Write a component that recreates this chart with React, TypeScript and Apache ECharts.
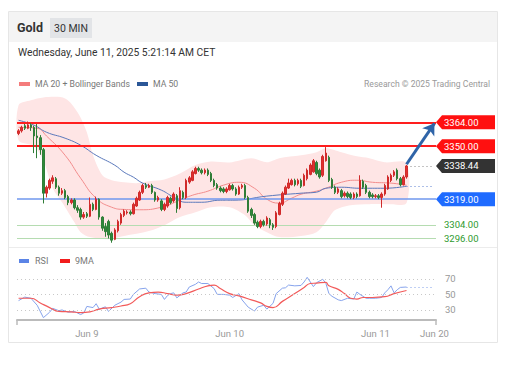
import React, { useEffect, useRef } from 'react';
import * as echarts from 'echarts';

// ---------- data ----------
const CATEGORY_COUNT = 135;
const tickIndex = [22, 68, 115, 134];
const tickText = ['Jun 9', 'Jun 10', 'Jun 11', 'Jun 20'];

// [open, close, low, high]
const candles: number[][] = [
  [3357.5, 3359, 3356.5, 3360], [3359, 3361, 3358, 3362], [3362, 3360.5, 3359.5, 3363], [3360.5, 3362.5, 3360, 3364.5],
  [3362.5, 3361, 3359, 3363.5], [3361, 3356, 3346, 3362], [3356, 3355, 3343, 3363], [3355, 3348, 3345, 3356.5],
  [3348, 3322.5, 3316.5, 3349], [3322.5, 3326, 3320, 3327], [3325.5, 3330, 3324.5, 3331], [3329.5, 3331.5, 3328, 3333],
  [3331, 3326, 3325, 3332], [3326, 3322.5, 3321, 3327], [3322.5, 3324, 3321.5, 3325.5], [3324, 3320, 3319, 3325],
  [3320.5, 3317, 3315.5, 3321.5], [3317, 3318.5, 3316, 3319.5], [3318.5, 3314, 3313, 3319.5], [3314, 3312.5, 3311, 3315.5],
  [3313, 3308.5, 3307, 3314], [3308.5, 3310, 3307.5, 3311.5], [3310.5, 3309, 3308, 3311.5], [3309, 3316, 3308.5, 3320],
  [3316, 3313, 3312, 3317], [3313, 3319, 3312.5, 3320.5], [3319, 3308.5, 3307, 3319.5], [3308.5, 3302, 3300.5, 3309],
  [3303, 3300, 3297, 3305], [3306, 3298, 3296, 3307], [3299, 3295, 3293.5, 3300], [3295.5, 3301, 3295, 3302],
  [3300.5, 3306, 3299.5, 3307], [3305, 3310, 3304, 3311], [3309.5, 3312, 3308.5, 3313], [3311, 3311.5, 3310, 3312.5],
  [3311.5, 3310.5, 3309.5, 3312.5], [3310.5, 3316, 3310, 3317], [3315, 3319.5, 3314.5, 3320.5], [3318.5, 3323, 3318, 3324],
  [3323, 3327, 3322, 3328], [3327, 3326, 3325, 3328.5], [3326, 3327, 3325.5, 3328], [3327, 3323, 3322, 3328],
  [3323, 3318.5, 3317.5, 3323.5], [3318.5, 3320, 3317.5, 3321], [3318, 3313, 3312, 3319], [3313, 3316, 3312, 3317],
  [3315, 3320, 3314, 3321], [3319.5, 3317, 3316, 3320.5], [3318, 3322, 3317, 3323], [3321, 3313.5, 3311, 3322],
  [3314, 3324, 3313, 3326], [3323, 3320, 3319, 3324], [3320, 3330, 3319, 3331], [3329, 3331.5, 3328, 3332.5],
  [3330, 3335, 3329.5, 3336], [3334, 3337, 3333.5, 3338], [3337, 3336, 3335, 3338], [3336, 3334.5, 3333.5, 3337],
  [3334.5, 3336, 3333.5, 3337], [3336, 3333.5, 3332.5, 3337], [3334, 3330, 3329, 3335], [3330, 3327, 3326, 3331],
  [3327.5, 3325.5, 3324.5, 3328.5], [3325.5, 3324, 3323, 3326.5], [3325, 3323.5, 3322.5, 3326], [3323.5, 3325, 3322.5, 3326],
  [3324.5, 3327, 3324, 3328], [3327, 3325, 3324, 3328], [3325, 3322, 3321, 3326], [3322, 3326, 3321.5, 3327],
  [3326, 3327, 3325, 3328], [3327, 3320, 3319, 3328], [3320, 3312, 3311, 3321], [3313, 3309.5, 3308, 3314],
  [3310, 3305, 3304, 3311], [3305.5, 3303, 3302, 3306.5], [3303, 3306, 3302, 3307], [3306, 3304, 3303, 3307],
  [3304.5, 3308, 3303.5, 3309], [3307, 3304, 3302, 3308], [3304, 3302.5, 3301, 3305], [3303, 3311, 3302, 3312],
  [3310, 3316.5, 3309.5, 3317.5], [3316, 3322.5, 3315, 3323.5], [3322, 3326, 3321.5, 3327], [3325.5, 3328.5, 3325, 3331],
  [3327.5, 3330, 3327, 3331], [3330, 3327.5, 3326.5, 3331], [3328, 3330, 3327, 3331], [3330, 3326.5, 3325.5, 3331],
  [3327, 3333, 3326.5, 3334], [3331, 3336, 3330, 3337], [3333.5, 3339, 3333, 3340], [3335, 3341.5, 3334.5, 3342.5],
  [3340.5, 3334, 3333, 3341.5], [3336, 3332, 3331, 3337], [3333, 3344, 3332, 3345], [3341.5, 3346, 3341, 3349.5],
  [3343.5, 3330, 3329, 3344.5], [3330.5, 3326, 3325, 3331.5], [3326, 3323, 3322, 3327], [3323, 3325, 3322, 3326],
  [3324, 3320.5, 3319.5, 3325], [3321, 3322.5, 3320, 3323.5], [3322.5, 3320.5, 3319.5, 3323.5], [3322, 3320, 3319, 3323],
  [3320, 3322, 3319, 3323], [3322, 3320.5, 3319.5, 3323], [3321, 3330, 3320.5, 3333], [3329.5, 3326, 3325, 3330.5],
  [3327, 3323, 3322, 3328], [3323, 3320.5, 3319.5, 3324], [3321.5, 3320.5, 3319.5, 3322.5], [3320.5, 3321, 3319.5, 3322],
  [3321, 3320, 3319, 3322], [3320, 3322, 3314, 3323], [3322, 3327, 3321, 3328], [3325, 3332, 3324.5, 3333],
  [3330, 3333, 3329, 3334], [3333, 3335, 3332, 3336], [3336, 3331, 3330, 3337], [3331, 3327.5, 3326.5, 3332],
  [3327.5, 3332, 3327, 3333], [3332, 3338.44, 3331, 3339],
];

// [category index, value]
const ma20: number[][] = [
  [0, 3361.1], [6, 3360.5], [9, 3356], [15, 3344.7], [20, 3331.3], [25, 3319.6], [30, 3314.3], [34, 3313],
  [39, 3312.8], [46, 3314.3], [52, 3318.4], [56, 3321.3], [61, 3323.7], [66, 3327.2], [71, 3328.9], [76, 3325.4],
  [80, 3319], [84, 3316.7], [88, 3319.6], [91, 3321.9], [96, 3323.7], [99, 3325.4], [104, 3328.9], [109, 3330.1],
  [114, 3328.9], [120, 3328.4], [125, 3327.2],
];
const ma50: number[][] = [
  [0, 3365.2], [5, 3362.3], [9, 3358.2], [15, 3354.7], [20, 3350.6], [25, 3344.7], [31, 3338.9], [34, 3334.8],
  [37, 3331.9], [40, 3328.4], [46, 3324.3], [50, 3320.2], [54, 3317.2], [59, 3317.2], [65, 3318.4], [69, 3318.4],
  [80, 3320.8], [91, 3322.5], [96, 3323.1], [99, 3325.4], [104, 3326], [110, 3325.4], [118, 3325.4], [125, 3326.6],
];
const bandUpper: number[][] = [
  [0, 3374], [4, 3376.9], [8, 3378.6], [15, 3378], [19, 3369.9], [22, 3358.2], [24, 3344.7], [27, 3333],
  [30, 3330.1], [34, 3328.9], [38, 3328.4], [42, 3329.5], [47, 3330.5], [52, 3334], [57, 3339], [62, 3341],
  [68, 3340.5], [75, 3343], [80, 3340.6], [84, 3343], [91, 3344.7], [96, 3346.5], [99, 3348.8], [104, 3346.5],
  [109, 3344.1], [113, 3343], [118, 3340.6], [125, 3340.1],
];
const bandLower: number[][] = [
  [0, 3353.5], [5, 3350], [8, 3341.8], [11, 3325.4], [14, 3317.2], [16, 3311.4], [18, 3305.5], [20, 3299.7],
  [23, 3296.8], [29, 3295.6], [34, 3297.4], [42, 3300.3], [47, 3303.8], [52, 3308.5], [57, 3311.4], [62, 3314.3],
  [68, 3314.3], [73, 3309.6], [76, 3303.8], [80, 3299.7], [84, 3296.8], [91, 3297.4], [96, 3299.7], [99, 3305.5],
  [102, 3312.6], [107, 3315.5], [113, 3316.1], [120, 3316.1], [125, 3316.7],
];
const rsi: number[][] = [
  [0, 42], [2, 46.5], [4, 45], [6, 36], [8, 20], [10, 27], [11, 32], [13, 29], [14, 30], [16, 27], [18, 28],
  [20, 24], [21, 26], [22, 34.5], [24, 33], [25, 38], [26, 31], [28, 34], [29, 28], [31, 36], [33, 40], [34, 43.5],
  [36, 44], [37, 50], [39, 57], [41, 58], [42, 53], [44, 51], [46, 50], [47, 43.5], [48, 48.5], [49, 51], [50, 52],
  [51, 45.5], [53, 52], [54, 53], [55, 59.5], [57, 63], [58, 66], [59, 64], [61, 64], [63, 57.5], [64, 50], [66, 50],
  [68, 49], [69, 46], [71, 51], [72, 43], [74, 33.5], [76, 28.5], [77, 33.6], [79, 36], [80, 31], [82, 38.5],
  [83, 51], [85, 58], [86, 58.5], [87, 62], [89, 61], [91, 61.5], [92, 66], [93, 72], [95, 60], [96, 65], [98, 69.5],
  [99, 64.5], [100, 51], [101, 47.5], [103, 43], [104, 42], [106, 45], [108, 44], [109, 53], [110, 50], [112, 45],
  [113, 45], [115, 45], [117, 46], [118, 52], [119, 56], [120, 61], [121, 52], [122, 56], [123, 59], [125, 59.5],
];
const rsi9ma: number[][] = [
  [0, 45], [4, 45], [7, 39], [10, 33], [13, 28], [17, 27.5], [20, 26.5], [23, 27.5], [26, 31], [30, 33], [33, 35],
  [36, 38], [39, 47], [42, 52], [45, 53], [48, 51], [51, 49], [54, 51], [58, 57], [61, 61], [63, 62], [65, 57.5],
  [68, 51], [71, 48], [75, 43], [78, 39], [80, 34.5], [82, 33], [85, 41], [89, 51], [92, 59], [94, 64], [96, 64.5],
  [99, 65.5], [100, 61], [103, 56.5], [105, 51], [107, 45], [109, 44], [111, 46], [114, 46], [118, 47], [121, 51],
  [125, 55],
];
const resistanceLevels = [3364, 3350];
const pivotLevel = 3319;
const supportLevels = [3304, 3296];
const lastPrice = 3338.44;
const targetPrice = 3364;
const maLast = 3326.6;
const rsiLast = 59.5;
const rsiLevels = [30, 50, 70];

const FONT = 'Roboto, Arial, sans-serif';

export default function App() {
  const ref = useRef<HTMLDivElement>(null);

  useEffect(() => {
    document.body.style.margin = '0';
    const chart = echarts.init(ref.current!, null, { renderer: 'svg' });
    const cats = Array.from({ length: CATEGORY_COUNT }, (_, i) => String(i));
    const lastIdx = candles.length - 1;
    const endIdx = CATEGORY_COUNT - 1;

    const baseGraphics: any[] = [
      { id: 'card', type: 'rect', z: -10, shape: { x: 8.5, y: 11.5, width: 489, height: 331 }, style: { fill: '#fff', stroke: '#e6e6e6', lineWidth: 1 } },
      { id: 'hdr', type: 'rect', z: -9, shape: { x: 9, y: 12, width: 488, height: 30 }, style: { fill: '#f4f4f4' } },
      { id: 'gold', type: 'text', z: 10, x: 17, y: 27, style: { text: 'Gold', fill: '#333', fontSize: 12.5, fontWeight: 'bold', fontFamily: FONT, verticalAlign: 'middle' } },
      { id: 'badge', type: 'rect', z: 9, shape: { x: 50, y: 18, width: 42, height: 20 }, style: { fill: '#e2e4e7' } },
      { id: 'badgeT', type: 'text', z: 10, x: 71, y: 28, style: { text: '30 MIN', fill: '#333', fontSize: 10.5, fontFamily: FONT, align: 'center', verticalAlign: 'middle' } },
      { id: 'date', type: 'text', z: 10, x: 18, y: 52, style: { text: 'Wednesday, June 11, 2025 5:21:14 AM CET', fill: '#333', fontSize: 10.3, fontFamily: FONT, verticalAlign: 'middle' } },
      { id: 'lg1r', type: 'rect', z: 10, shape: { x: 19, y: 82, width: 11, height: 4 }, style: { fill: '#f47c7c' } },
      { id: 'lg1t', type: 'text', z: 10, x: 35, y: 84, style: { text: 'MA 20 + Bollinger Bands', fill: '#777', fontSize: 8.7, fontFamily: FONT, verticalAlign: 'middle' } },
      { id: 'lg2r', type: 'rect', z: 10, shape: { x: 137, y: 82, width: 11, height: 4 }, style: { fill: '#2b5797' } },
      { id: 'lg2t', type: 'text', z: 10, x: 153, y: 84, style: { text: 'MA 50', fill: '#777', fontSize: 8.7, fontFamily: FONT, verticalAlign: 'middle' } },
      { id: 'src', type: 'text', z: 10, x: 490, y: 84, style: { text: 'Research \u00a9 2025 Trading Central', fill: '#999', fontSize: 8.6, fontFamily: FONT, align: 'right', verticalAlign: 'middle' } },
      { id: 'sep', type: 'line', z: -8, shape: { x1: 9, y1: 247.5, x2: 497, y2: 247.5 }, style: { stroke: '#ececec', lineWidth: 1 } },
      { id: 'lg3r', type: 'rect', z: 10, shape: { x: 19, y: 259, width: 10, height: 4 }, style: { fill: '#5b84e6' } },
      { id: 'lg3t', type: 'text', z: 10, x: 35, y: 261, style: { text: 'RSI', fill: '#777', fontSize: 9, fontFamily: FONT, verticalAlign: 'middle' } },
      { id: 'lg4r', type: 'rect', z: 10, shape: { x: 60, y: 259, width: 10, height: 4 }, style: { fill: '#f21d1d' } },
      { id: 'lg4t', type: 'text', z: 10, x: 75, y: 261, style: { text: '9MA', fill: '#777', fontSize: 9, fontFamily: FONT, verticalAlign: 'middle' } },
      { id: 'tk1', type: 'line', z: 10, shape: { x1: 17, y1: 320, x2: 17, y2: 325 }, style: { stroke: '#bbb', lineWidth: 1.5 } },
      { id: 'tk2', type: 'line', z: 10, shape: { x1: 436, y1: 320, x2: 436, y2: 325 }, style: { stroke: '#bbb', lineWidth: 1.5 } },
    ];

    const option: any = {
      animation: false,
      textStyle: { fontFamily: FONT },
      grid: [
        { left: 17, right: 79, top: 95, height: 152 },
        { left: 17, right: 79, top: 268, height: 52 },
      ],
      xAxis: [
        { type: 'category', gridIndex: 0, data: cats, show: false, boundaryGap: true },
        {
          type: 'category', gridIndex: 1, data: cats, boundaryGap: true,
          axisLine: { lineStyle: { color: '#bbb', width: 2 } },
          axisTick: { show: false },
          splitLine: { show: false },
          axisLabel: {
            interval: (i: number) => tickIndex.includes(i),
            formatter: (v: string) => { const k = tickIndex.indexOf(Number(v)); return k >= 0 ? tickText[k] : ''; },
            color: '#999', fontSize: 9.5, margin: 8, fontFamily: FONT,
          },
        },
      ],
      yAxis: [
        { type: 'value', gridIndex: 0, min: 3291, max: 3380, show: false, splitLine: { show: false } },
        { type: 'value', gridIndex: 1, min: 17, max: 84, show: false, splitLine: { show: false } },
      ],
      graphic: baseGraphics,
      series: [
        {
          type: 'custom', xAxisIndex: 0, yAxisIndex: 0, silent: true, z: 1,
          data: [[0, 3330]],
          renderItem: (_p: any, api: any) => {
            const pts = bandUpper.map((p) => api.coord(p)).concat(bandLower.slice().reverse().map((p) => api.coord(p)));
            return { type: 'polygon', shape: { points: pts, smooth: 0.3 }, style: { fill: '#fee5e5' } };
          },
        },
        {
          type: 'line', name: 'MA 20', xAxisIndex: 0, yAxisIndex: 0, data: ma20, smooth: true, showSymbol: false, silent: true, z: 2,
          lineStyle: { color: '#f28d8d', width: 1 },
          markLine: {
            silent: true, symbol: 'none', label: { show: false },
            data: [
              ...resistanceLevels.map((v) => ({ yAxis: v, lineStyle: { color: '#ff1e1e', width: 2, type: 'solid' } })),
              { yAxis: pivotLevel, lineStyle: { color: '#6f97ee', width: 1.5, type: 'solid' } },
              ...supportLevels.map((v) => ({ yAxis: v, lineStyle: { color: '#b5dcb1', width: 1, type: 'solid' } })),
            ],
          },
        },
        {
          type: 'line', name: 'MA 50', xAxisIndex: 0, yAxisIndex: 0, data: ma50, smooth: true, showSymbol: false, silent: true, z: 2,
          lineStyle: { color: '#5a78bb', width: 1 },
          markLine: {
            silent: true, label: { show: false },
            data: [
              [{ coord: [lastIdx, lastPrice], symbol: 'none' }, { coord: [endIdx, lastPrice], symbol: 'none', lineStyle: { color: '#888', width: 1, type: [1, 3] } }],
              [{ coord: [lastIdx, maLast], symbol: 'none' }, { coord: [endIdx, maLast], symbol: 'none', lineStyle: { color: '#5a7fd0', width: 1, type: [1, 3] } }],
              [{ coord: [lastIdx, lastPrice + 1], symbol: 'none' }, { coord: [endIdx, targetPrice - 0.6], symbol: 'arrow', symbolSize: [11, 11], lineStyle: { color: '#2f64a8', width: 3, type: 'solid' } }],
            ],
          },
        },
        {
          type: 'candlestick', xAxisIndex: 0, yAxisIndex: 0, data: candles, barWidth: 2, silent: true, z: 5,
          itemStyle: { color: '#e0302f', color0: '#2f8a3a', borderColor: '#d02a2a', borderColor0: '#2f7d37', borderWidth: 1 },
        },
        {
          type: 'line', name: 'RSI', xAxisIndex: 1, yAxisIndex: 1, data: rsi, showSymbol: false, silent: true, z: 3,
          lineStyle: { color: '#86a3ec', width: 1 },
          markLine: {
            silent: true, symbol: 'none',
            data: [
              ...rsiLevels.map((v) => ({
                yAxis: v,
                lineStyle: { color: '#c8c8c8', width: 1, type: [1, 3] },
                label: { show: true, position: 'end', formatter: String(v), color: '#999', fontSize: 9.5, distance: 9, fontFamily: FONT },
              })),
              [{ coord: [lastIdx, rsiLast] }, { coord: [endIdx, rsiLast], lineStyle: { color: '#7f9fe8', width: 1, type: [1, 3] }, label: { show: false } }],
            ],
          },
        },
        {
          type: 'line', name: '9MA', xAxisIndex: 1, yAxisIndex: 1, data: rsi9ma, smooth: true, showSymbol: false, silent: true, z: 4,
          lineStyle: { color: '#f25a5a', width: 1.2 },
        },
      ],
    };

    chart.setOption(option);

    const yPix = (v: number) => (chart.convertToPixel({ gridIndex: 0 } as any, [0, v]) as number[])[1];
    const tags: any[] = [];
    const tagX = 436;
    const tagW = 59;
    const tagH = 14;
    const tagDefs: [number, string][] = [
      [resistanceLevels[0], '#ff1010'],
      [resistanceLevels[1], '#ff1010'],
      [lastPrice, '#333333'],
      [pivotLevel, '#1f6bff'],
    ];
    tagDefs.forEach(([v, c], k) => {
      const y = yPix(v);
      tags.push({
        id: 'tag' + k, type: 'polygon', z: 20,
        shape: { points: [[tagX, y], [tagX + 6, y - tagH / 2], [tagX + tagW, y - tagH / 2], [tagX + tagW, y + tagH / 2], [tagX + 6, y + tagH / 2]] },
        style: { fill: c },
      });
      tags.push({
        id: 'tagT' + k, type: 'text', z: 21, x: tagX + 8, y,
        style: { text: v.toFixed(2), fill: '#fff', fontSize: 9.5, fontFamily: FONT, verticalAlign: 'middle' },
      });
    });
    supportLevels.forEach((v, k) => {
      tags.push({
        id: 'sup' + k, type: 'text', z: 21, x: tagX + 8, y: yPix(v),
        style: { text: v.toFixed(2), fill: '#2e9a2e', fontSize: 9.5, fontFamily: FONT, verticalAlign: 'middle' },
      });
    });
    chart.setOption({ graphic: [...baseGraphics, ...tags] });

    return () => chart.dispose();
  }, []);

  return <div ref={ref} style={{ width: 515, height: 365 }} />;
}
